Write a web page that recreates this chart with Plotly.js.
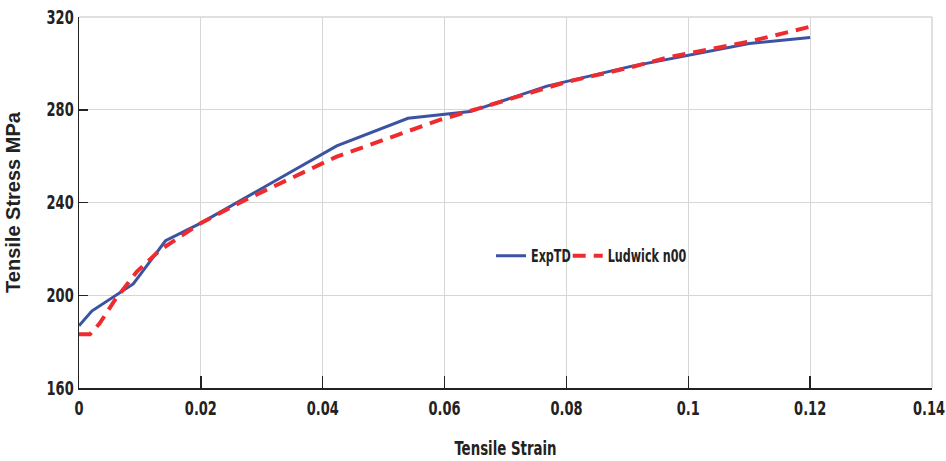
<!DOCTYPE html>
<html>
<head>
<meta charset="utf-8">
<script src="https://cdn.plot.ly/plotly-3.0.1.min.js"></script>
<style>html,body{margin:0;padding:0;background:#fff;}#chart{width:946px;height:461px;}</style>
</head>
<body>
<div id="chart"></div>
<script>
// ExpTD (experimental) curve
const expStrain = [0, 0.0021, 0.0089, 0.0142, 0.0199, 0.0423, 0.0540, 0.0642, 0.0768, 0.0904, 0.110, 0.120];
const expStress = [186.8, 193.2, 204.9, 223.5, 231.0, 264.4, 276.3, 279.2, 290.2, 298.6, 308.6, 311.2];
// Ludwick n00 model curve
const ludStrain = [0, 0.0018, 0.0034, 0.0059, 0.0095, 0.0133, 0.0199, 0.0272, 0.0423, 0.0538, 0.0592, 0.0655, 0.080, 0.0904, 0.0967, 0.110, 0.120];
const ludStress = [183.2, 183.2, 187.9, 198.0, 210.2, 219.5, 231.0, 241.0, 259.8, 270.5, 275.6, 280.5, 292.0, 298.2, 302.6, 309.4, 315.8];
const seriesNames = ["ExpTD", "Ludwick n00"];
const xTicks = [0, 0.02, 0.04, 0.06, 0.08, 0.1, 0.12, 0.14];
const xTickText = ["0", "0.02", "0.04", "0.06", "0.08", "0.1", "0.12", "0.14"];
const yTicks = [160, 200, 240, 280, 320];

const narrow = "'DejaVu Sans Condensed', 'Liberation Sans Narrow', 'Liberation Sans', Arial, sans-serif";

const traces = [
  {x: expStrain, y: expStress, name: seriesNames[0], mode: "lines",
   line: {color: "#3c52a3", width: 3}},
  {x: ludStrain, y: ludStress, name: seriesNames[1], mode: "lines",
   line: {color: "#ee2b2f", width: 4, dash: "13px,8px"}}
];

const layout = {
  width: 946, height: 461,
  margin: {l: 79, r: 14, t: 17, b: 73},
  paper_bgcolor: "#fff", plot_bgcolor: "#fff",
  font: {family: narrow, color: "#222", size: 19},
  showlegend: true,
  legend: {orientation: "h", x: 0.483, y: 0.355, xanchor: "left", yanchor: "middle",
           bgcolor: "rgba(0,0,0,0)", font: {family: narrow, size: 17, color: "#222", weight: "bold"},
           tracegroupgap: 0},
  xaxis: {range: [0, 0.14], tickvals: xTicks, ticktext: xTickText, ticklabeloverflow: "allow",
          ticklabelstandoff: 3,
          showgrid: true, gridcolor: "#d6d6d6", gridwidth: 1,
          showline: true, linecolor: "#222", linewidth: 1.5,
          ticks: "inside", ticklen: 12, tickcolor: "#222", tickwidth: 1.5,
          tickfont: {family: narrow, size: 19, color: "#222", weight: "bold"},
          zeroline: false,
          title: {text: "Tensile Strain", standoff: 23,
                  font: {family: narrow, size: 19, color: "#222", weight: "bold"}}},
  yaxis: {range: [160, 320], tickvals: yTicks,
          showgrid: true, gridcolor: "#d6d6d6", gridwidth: 1,
          showline: true, linecolor: "#222", linewidth: 1.5,
          ticks: "inside", ticklen: 9, tickcolor: "#222", tickwidth: 1.5,
          tickfont: {family: narrow, size: 19, color: "#222", weight: "bold"},
          zeroline: false,
          title: {text: "Tensile Stress MPa", standoff: 12,
                  font: {family: "'Liberation Sans', Arial, sans-serif", size: 20, color: "#222", weight: "bold"}}},
  shapes: [
    {type: "line", xref: "paper", yref: "paper", x0: 0, x1: 1, y0: 1, y1: 1, line: {color: "#d6d6d6", width: 1.5}},
    {type: "line", xref: "paper", yref: "paper", x0: 1, x1: 1, y0: 0, y1: 1, line: {color: "#d6d6d6", width: 1.5}}
  ]
};

function condense(selector, factor) {
  document.querySelectorAll(selector).forEach(function (t) {
    const len = t.getComputedTextLength();
    if (len > 0) {
      t.setAttribute("textLength", (len * factor).toFixed(2));
      t.setAttribute("lengthAdjust", "spacingAndGlyphs");
    }
  });
}

Plotly.newPlot("chart", traces, layout, {displayModeBar: false, staticPlot: true}).then(function () {
  condense("#chart .xtick text, #chart .ytick text", 0.76);
  condense("#chart .g-xtitle text", 0.78);
  // keep the last x tick label fully inside the page
  document.querySelectorAll("#chart .xtick text").forEach(function (t) {
    if (t.textContent === xTickText[xTickText.length - 1]) {
      t.setAttribute("transform", (t.getAttribute("transform") || "") + " translate(-3,0)");
    }
  });
  const items = Array.from(document.querySelectorAll("#chart .legend .traces"));
  const f = 0.73;
  let shift = 0;
  items.forEach(function (g) {
    const tr = g.getAttribute("transform") || "";
    const m = tr.match(/translate\(\s*([-\d.e]+)[ ,]+([-\d.e]+)\s*\)/);
    const txt = g.querySelector(".legendtext");
    if (m && shift > 0) {
      g.setAttribute("transform", "translate(" + (parseFloat(m[1]) - shift) + "," + m[2] + ")");
    }
    if (txt) {
      const len = txt.getComputedTextLength();
      txt.setAttribute("textLength", (len * f).toFixed(2));
      txt.setAttribute("lengthAdjust", "spacingAndGlyphs");
      shift += len * (1 - f) + 8;
    }
  });
});
</script>
</body>
</html>
